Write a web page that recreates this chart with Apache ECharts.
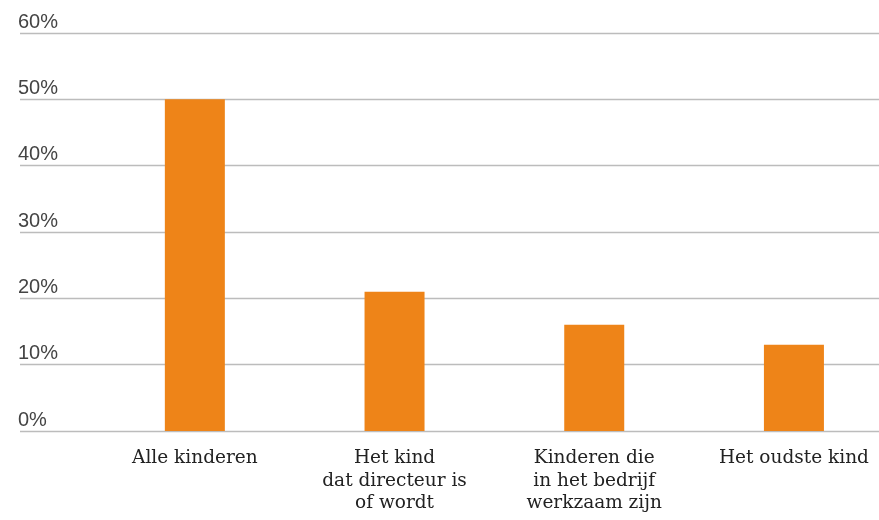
<!DOCTYPE html>
<html>
<head>
<meta charset="utf-8">
<script src="https://cdn.jsdelivr.net/npm/echarts@6/dist/echarts.min.js"></script>
<style>
  html, body { margin: 0; padding: 0; background: #fff; }
  #chart { width: 879px; height: 520px; }
</style>
</head>
<body>
<div id="chart"></div>
<script>
// Share of respondents per group (percent)
const categories = [
  'Alle kinderen',
  'Het kind\ndat directeur is\nof wordt',
  'Kinderen die\nin het bedrijf\nwerkzaam zijn',
  'Het oudste kind'
];
const values = [50, 21, 16, 13];
const yTicks = [0, 10, 20, 30, 40, 50, 60];

const yMin = yTicks[0];
const yMax = yTicks[yTicks.length - 1];
const yStep = yTicks[1] - yTicks[0];

// Category slots are one unit wide; the last slot runs past the right edge,
// so the visible range ends a little before index 3.5.
const slotStart = -0.5;
const slotEnd = 3.426;

const chart = echarts.init(document.getElementById('chart'));
chart.setOption({
  animation: false,
  grid: [
    // grid for the value scale and horizontal rules (full width)
    { left: 20, right: 0, top: 33, bottom: 89 },
    // grid for the bars and category labels
    { left: 95, right: 0, top: 33, bottom: 89 }
  ],
  xAxis: [
    { gridIndex: 0, type: 'value', show: false, min: 0, max: 1 },
    {
      gridIndex: 1,
      type: 'value',
      min: slotStart,
      max: slotEnd,
      axisLine: { show: false },
      axisTick: { show: false },
      splitLine: { show: false },
      axisLabel: {
        customValues: categories.map((c, i) => i),
        formatter: v => categories[Math.round(v)] || '',
        margin: 16,
        fontFamily: 'DejaVu Serif',
        fontSize: 18.5,
        lineHeight: 22.5,
        color: '#222',
        verticalAlign: 'top'
      }
    }
  ],
  yAxis: [
    {
      gridIndex: 0,
      type: 'value',
      min: yMin,
      max: yMax,
      interval: yStep,
      axisLine: { show: false },
      axisTick: { show: false },
      splitLine: { lineStyle: { color: '#bcbcbc', width: 1.3 } },
      axisLabel: {
        inside: true,
        margin: -2,
        align: 'left',
        verticalAlign: 'bottom',
        padding: [0, 0, 1, 0],
        fontFamily: 'Liberation Sans, Arial, sans-serif',
        fontSize: 20,
        color: '#444',
        formatter: v => v + '%'
      }
    },
    {
      gridIndex: 1,
      type: 'value',
      min: yMin,
      max: yMax,
      interval: yStep,
      show: false
    }
  ],
  series: [
    {
      type: 'bar',
      xAxisIndex: 1,
      yAxisIndex: 1,
      data: values.map((v, i) => [i, v]),
      barWidth: 60,
      itemStyle: { color: '#ee8418' }
    }
  ]
});
</script>
</body>
</html>
